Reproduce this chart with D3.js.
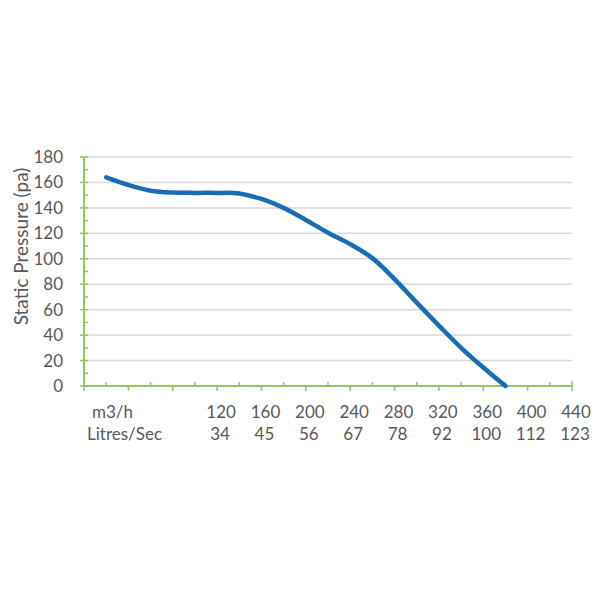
<!DOCTYPE html>
<html>
<head>
<meta charset="utf-8">
<script src="https://cdn.jsdelivr.net/npm/d3@7"></script>
<style>
  html, body { margin: 0; padding: 0; background: #fff; }
  text { font-family: Lato, "Open Sans", sans-serif; fill: #595959; }
</style>
</head>
<body>
<svg id="chart" width="600" height="600"></svg>
<script>
// Data: airflow (m3/h) vs static pressure (pa)
const airflow = [20, 40, 60, 80, 100, 120, 140, 160, 180, 200, 220, 240, 260, 280, 300, 320, 340, 360, 380];
const pressure = [164, 158, 153.5, 152, 151.8, 151.8, 151.3, 147, 140, 130.5, 120.5, 111.5, 100.5, 84, 65.5, 47.5, 30, 14.5, 0];
const yTicks = [0, 20, 40, 60, 80, 100, 120, 140, 160, 180];
const m3hLabels = [120, 160, 200, 240, 280, 320, 360, 400, 440];
const lpsLabels = ["34", "45", "56", "67", "78", "92", "100", "112", "123"];
const rowTitles = ["m3/h", "Litres/Sec"];
const yTitle = "Static Pressure (pa)";

(function () {
const svg = d3.select("#chart");
const pLeft = 84, pRight = 572, pTop = 157, pBottom = 386;

const x = d3.scaleLinear().domain([0, 440]).range([pLeft, pRight]);
const y = d3.scaleLinear().domain([0, 180]).range([pBottom, pTop]);

const green = "#92c95a";
const grid = "#d9d9d9";

// gridlines
svg.append("g").selectAll("line").data(yTicks.filter(d => d > 0)).join("line")
  .attr("x1", pLeft).attr("x2", pRight)
  .attr("y1", d => y(d)).attr("y2", d => y(d))
  .attr("stroke", grid).attr("stroke-width", 1.5);

// y axis (major ticks crossing, minor inside)
const yAxisG = svg.append("g");
yAxisG.append("line").attr("x1", pLeft).attr("x2", pLeft).attr("y1", pTop).attr("y2", pBottom)
  .attr("stroke", green).attr("stroke-width", 2);
yAxisG.selectAll("line.maj").data(yTicks).join("line").attr("class", "maj")
  .attr("x1", pLeft - 4).attr("x2", pLeft + 4)
  .attr("y1", d => y(d)).attr("y2", d => y(d))
  .attr("stroke", green).attr("stroke-width", 1.5);
yAxisG.selectAll("line.min").data(d3.range(10, 180, 20)).join("line").attr("class", "min")
  .attr("x1", pLeft).attr("x2", pLeft + 4)
  .attr("y1", d => y(d)).attr("y2", d => y(d))
  .attr("stroke", green).attr("stroke-width", 1.5);
yAxisG.selectAll("text").data(yTicks).join("text")
  .attr("x", 63).attr("y", d => y(d)).attr("dy", "0.35em")
  .attr("text-anchor", "end").attr("font-size", 17)
  .text(d => d);

// x axis
const xAxisG = svg.append("g");
xAxisG.append("line").attr("x1", pLeft).attr("x2", pRight).attr("y1", pBottom).attr("y2", pBottom)
  .attr("stroke", green).attr("stroke-width", 2);
xAxisG.selectAll("line.maj").data(d3.range(40, 440, 40)).join("line").attr("class", "maj")
  .attr("x1", d => x(d)).attr("x2", d => x(d))
  .attr("y1", pBottom).attr("y2", pBottom + 5)
  .attr("stroke", green).attr("stroke-width", 1.5);
xAxisG.selectAll("line.min").data(d3.range(20, 440, 40)).join("line").attr("class", "min")
  .attr("x1", d => x(d)).attr("x2", d => x(d))
  .attr("y1", pBottom - 4).attr("y2", pBottom)
  .attr("stroke", green).attr("stroke-width", 1.5);
xAxisG.selectAll("line.end").data([0, 440]).join("line").attr("class", "end")
  .attr("x1", d => x(d)).attr("x2", d => x(d))
  .attr("y1", pBottom - 5).attr("y2", pBottom + 5)
  .attr("stroke", green).attr("stroke-width", 1.5);

// curve
const line = d3.line().x((d, i) => x(airflow[i])).y(d => y(d)).curve(d3.curveCatmullRom.alpha(0.5));
svg.append("path").datum(pressure)
  .attr("d", line).attr("fill", "none")
  .attr("stroke", "#1a6db5").attr("stroke-width", 4.5).attr("stroke-linecap", "round");

// label table
const row1 = 418, row2 = 440;
svg.append("text").attr("x", 92).attr("y", row1).attr("font-size", 17).text(rowTitles[0]);
svg.append("text").attr("x", 87).attr("y", row2).attr("font-size", 17).text(rowTitles[1]);
svg.append("g").selectAll("text").data(m3hLabels).join("text")
  .attr("x", d => x(d) + 4).attr("y", row1).attr("text-anchor", "middle").attr("font-size", 17)
  .text(d => d);
svg.append("g").selectAll("text").data(lpsLabels).join("text")
  .attr("x", (d, i) => x(m3hLabels[i]) + 3).attr("y", row2).attr("text-anchor", "middle").attr("font-size", 17)
  .text(d => d);

// y title
svg.append("text")
  .attr("transform", `translate(28, ${(pTop + pBottom) / 2 - 25}) rotate(-90)`)
  .attr("text-anchor", "middle").attr("font-size", 19)
  .text(yTitle);
})();
</script>
</body>
</html>
